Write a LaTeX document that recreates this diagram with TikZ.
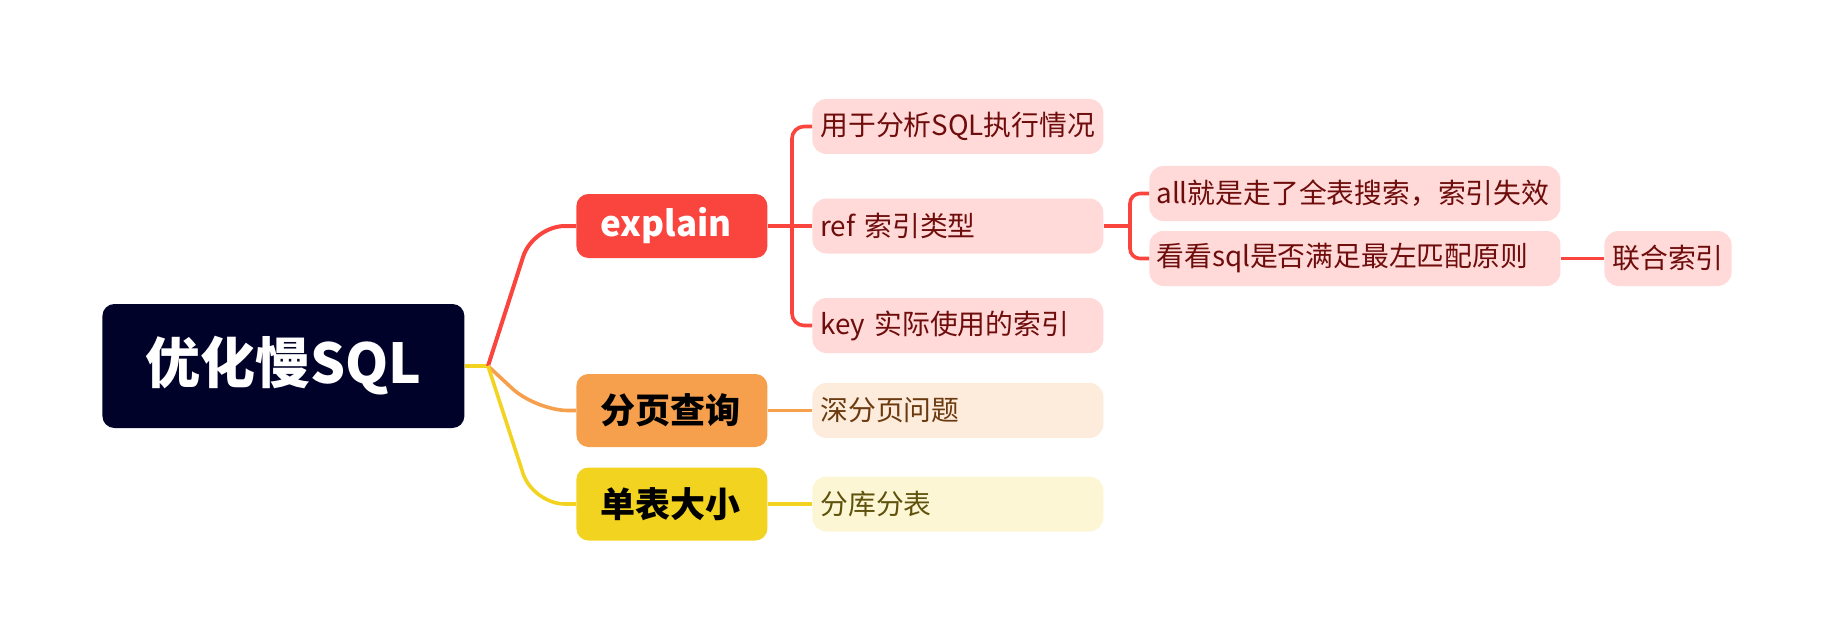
\documentclass[tikz,border=0pt]{standalone}
\usepackage{fontspec}
\setmainfont{Noto Sans CJK SC}
\usetikzlibrary{positioning}

\definecolor{rootbg}{HTML}{000229}
\definecolor{redtopic}{HTML}{FA453F}
\definecolor{orangetopic}{HTML}{F6A04D}
\definecolor{yellowtopic}{HTML}{F2D31F}
\definecolor{pinkbg}{HTML}{FFDAD9}
\definecolor{pinktext}{HTML}{6E0D0B}
\definecolor{peachbg}{HTML}{FDEBDB}
\definecolor{peachtext}{HTML}{6B3A0F}
\definecolor{creambg}{HTML}{FCF6D4}
\definecolor{creamtext}{HTML}{5F520C}

\tikzset{
  box/.style={anchor=west, rounded corners=6pt, inner ysep=0pt},
  rootbox/.style={box, fill=rootbg, text=white, minimum width=181pt, minimum height=62pt,
    inner xsep=0pt, align=center, font=\bfseries\fontsize{27.5}{30}\selectfont},
  topicbox/.style={box, text width=71.5pt, inner xsep=12pt, align=left,
    font=\bfseries\fontsize{17.5}{20}\selectfont},
  subbox/.style={box, rounded corners=7pt, minimum height=27.5pt, inner xsep=4pt,
    align=left, font=\fontsize{13.9}{16}\selectfont},
  wire/.style={line width=1.8pt, rounded corners=16pt},
}

\begin{document}
\begin{tikzpicture}[x=0.5pt, y=-0.5pt]
        \useasboundingbox (0,0) rectangle (1832,642);
        % Root
        \node[rootbox] (slowsql) at (102,366) {优化慢SQL};
        % Main topics
        \node[topicbox, fill=redtopic, text=white, minimum height=32pt] (explain) at (576,226) {explain};
        \node[topicbox, fill=orangetopic, text=black, minimum height=36.5pt] (paging) at (576,410.5) {分页查询};
        \node[topicbox, fill=yellowtopic, text=black, minimum height=36.5pt] (tablesize) at (576,504) {单表大小};
        % Sub topics of explain
        \node[subbox, fill=pinkbg, text=pinktext, text width=137.5pt] (usage) at (812,126.5) {用于分析SQL执行情况};
        \node[subbox, fill=pinkbg, text=pinktext, text width=137.5pt] (reftype) at (812,226) {ref 索引类型};
        \node[subbox, fill=pinkbg, text=pinktext, text width=137.5pt] (keyused) at (812,325.5) {key 实际使用的索引};
        \node[subbox, fill=pinkbg, text=pinktext, text width=198.5pt, inner xsep=3.5pt] (allscan) at (1149,193.5) {all就是走了全表搜索，索引失效};
        \node[subbox, fill=pinkbg, text=pinktext, text width=198.5pt, inner xsep=3.5pt] (leftmost) at (1149,258.5) {看看sql是否满足最左匹配原则};
        \node[subbox, fill=pinkbg, text=pinktext] (compound) at (1604,258.5) {联合索引};
        % Sub topics of the others
        \node[subbox, fill=peachbg, text=peachtext, text width=137.5pt] (deeppage) at (812,410.5) {深分页问题};
        \node[subbox, fill=creambg, text=creamtext, text width=137.5pt] (sharding) at (812,504) {分库分表};

        % Forks
        \coordinate (rootfork) at (488,366);
        \coordinate (explainfork) at (792,226);
        \coordinate (reffork) at (1130,226);

        % Branches from the root
        \draw[wire, yellowtopic] (slowsql.east) -- (rootfork);
        \draw[wire, redtopic, line width=2pt] (rootfork) -- (533,226) -- (explain.west);
        \draw[wire, orangetopic] (rootfork) -- (536,410.5) -- (paging.west);
        \draw[wire, yellowtopic] (rootfork) -- (533,504) -- (tablesize.west);

        % Branches from the topics
        \draw[wire, redtopic] (explain.east) -- (reftype.west);
        \draw[wire, redtopic, rounded corners=6pt] (usage.west) -| (explainfork) |- (keyused.west);
        \draw[wire, redtopic] (reftype.east) -- (reffork);
        \draw[wire, redtopic, rounded corners=5pt] (allscan.west) -| (reffork) |- (leftmost.west);
        \draw[wire, redtopic] (leftmost.east) -- (compound.west);
        \draw[wire, orangetopic] (paging.east) -- (deeppage.west);
        \draw[wire, yellowtopic] (tablesize.east) -- (sharding.west);
    \end{tikzpicture}
\end{document}
